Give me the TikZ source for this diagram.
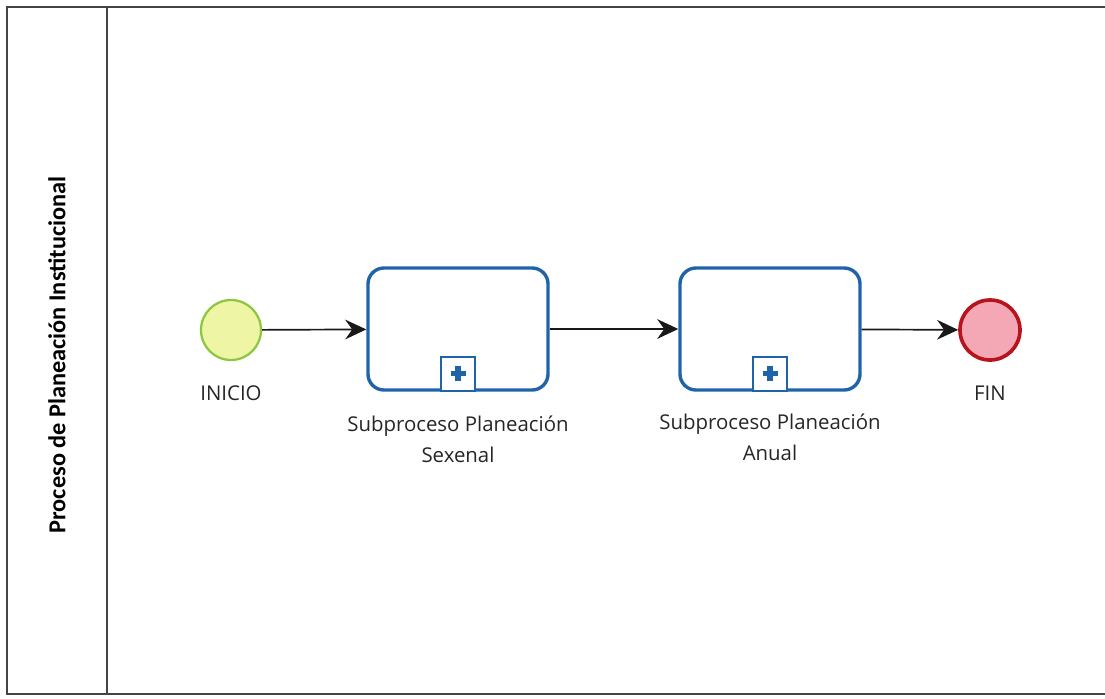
\documentclass[tikz,border=0pt]{standalone}
\usepackage{fontspec}
\setmainfont{Open Sans}
\newfontfamily\lanefont{Carlito}
\usepackage{tikz}
\usetikzlibrary{arrows.meta,positioning}
\definecolor{taskblue}{HTML}{1F64A8}
\definecolor{startgreen}{HTML}{8DC63F}
\definecolor{startfill}{HTML}{EEF6A6}
\definecolor{endred}{HTML}{B8141E}
\definecolor{endfill}{HTML}{F4A8B6}
\definecolor{poolgray}{HTML}{444444}

\begin{document}
\begin{tikzpicture}[x=0.025cm, y=-0.025cm, font=\fontsize{14.5}{22}\selectfont,
  >={Stealth[length=15pt,width=14pt,inset=5pt]}]
\useasboundingbox (0,0) rectangle (1105,698);
\tikzstyle{caption}=[align=center, text=black!85]
\tikzstyle{startevent}=[circle, draw=startgreen, line width=1.6pt, fill=startfill, minimum size=1.5cm]
\tikzstyle{endevent}=[circle, draw=endred, line width=2.6pt, fill=endfill, minimum size=1.5cm]
\tikzstyle{subproc}=[rectangle, rounded corners=0.4cm, draw=taskblue, line width=2.4pt, fill=white, minimum width=4.5cm, minimum height=3.05cm]
\tikzstyle{marker}=[rectangle, draw=taskblue, line width=1.3pt, fill=white, minimum size=0.85cm, inner sep=0pt]
\tikzstyle{plusmark}=[draw=taskblue, line width=3.6pt]
\tikzstyle{flow}=[line width=1.2pt, black!90]

% pool and lane
\draw[poolgray, line width=1.4pt] (1110,7) -- (7,7) -- (7,694) -- (1110,694);
\draw[poolgray, line width=1.4pt] (107,7) -- (107,694);
\node[rotate=90, font=\lanefont\bfseries\fontsize{17.3}{20}\selectfont] (lanetitle) at (57,355) {Proceso de Planeación Institucional};

% events and sub-processes
\node[startevent] (inicio) at (231,330) {};
\node[subproc] (sexenal) at (458,329) {};
\node[subproc] (anual) at (770,329) {};
\node[endevent] (fin) at (990,330) {};

% captions
\node[caption, below=0.5cm of inicio] (inicio-lbl) {INICIO};
\node[caption, below=0.48cm of sexenal] (sexenal-lbl) {Subproceso Planeación\\Sexenal};
\node[caption, below=0.44cm of anual] (anual-lbl) {Subproceso Planeación\\Anual};
\node[caption, below=0.47cm of fin] (fin-lbl) {FIN};

% collapsed markers
\foreach \t in {sexenal, anual}
{\node[marker, anchor=south] (\t-mk) at (\t.south) {};
 \draw[plusmark] (\t-mk.center) ++(-7.5,0) -- ++(15,0)
                 (\t-mk.center) ++(0,-7.5) -- ++(0,15);}

% sequence flows
\path[->, flow] (inicio) edge (sexenal)
                (sexenal) edge (anual)
                (anual) edge (fin);
\end{tikzpicture}
\end{document}
